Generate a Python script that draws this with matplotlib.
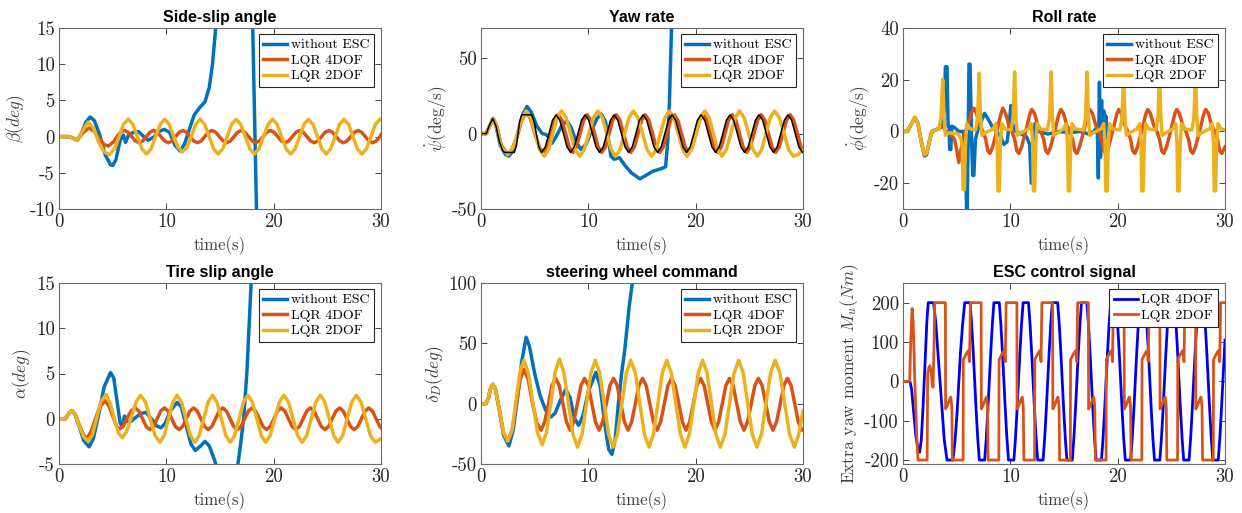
import numpy as np
import matplotlib
matplotlib.use('Agg')
import matplotlib.pyplot as plt

plt.rcParams['font.family'] = 'serif'
plt.rcParams['font.serif'] = ['cmr10', 'DejaVu Serif']
plt.rcParams['mathtext.fontset'] = 'cm'
plt.rcParams['axes.unicode_minus'] = False

# ---------------- data: (time [s], value) ----------------
x_ticks = [0, 10, 20, 30]
x_tick_labels = ['0', '10', '20', '30']
legend_3 = ['without ESC', 'LQR 4DOF', 'LQR 2DOF']
legend_2 = ['LQR 4DOF', 'LQR 2DOF']

# side-slip angle beta (deg)
beta_free = [(0, 0), (0.9, 0), (1.3, -0.2), (1.7, -0.5), (2.1, 0.5), (2.5, 2.0), (2.9, 2.7), (3.3, 2.2),
             (3.8, 0.2), (4.3, -2.5), (4.8, -3.9), (5.0, -4.0), (5.3, -3.2), (5.7, -0.5), (6.0, 0.2),
             (6.2, -0.8), (6.5, 0.3), (7.0, 0.6), (7.4, 0.7), (7.9, 0.0), (8.3, -0.5), (8.8, -0.1),
             (9.3, 0.7), (9.8, 1.0), (10.3, 0.6), (10.8, -1.2), (11.3, -2.0), (11.7, -1.0), (12.1, 0.8),
             (12.6, 3.0), (13.1, 4.0), (13.6, 4.8), (14.0, 6.8), (14.3, 10.0), (14.6, 15.0), (15.0, 25.0),
             (17.8, 25.0), (18.05, 15.0), (18.4, -10.0), (18.6, -20.0)]
beta_4dof = [(0, 0), (0.9, 0), (1.3, -0.2), (1.7, -0.5), (2.2, 0.5), (2.8, 1.2), (3.3, 0.7), (3.8, -0.3),
             (4.2, -1.1), (4.6, -1.3), (5.1, -0.7), (5.5, 0.2), (5.8, 0.7),
             (6.1, 0.85), (6.44, 0.6), (6.78, 0), (7.12, -0.6), (7.46, -0.85), (7.8, -0.6), (8.14, 0), (8.48, 0.6),
             (8.82, 0.85), (9.16, 0.6), (9.5, 0), (9.84, -0.6), (10.18, -0.85), (10.52, -0.6), (10.86, 0), (11.2, 0.6),
             (11.54, 0.85), (11.88, 0.6), (12.22, 0), (12.56, -0.6), (12.9, -0.85), (13.24, -0.6), (13.58, 0), (13.92, 0.6),
             (14.26, 0.85), (14.6, 0.6), (14.94, 0), (15.28, -0.6), (15.62, -0.85), (15.96, -0.6), (16.3, 0), (16.64, 0.6),
             (16.98, 0.85), (17.32, 0.6), (17.66, 0), (18.0, -0.6), (18.34, -0.85), (18.68, -0.6), (19.02, 0), (19.36, 0.6),
             (19.7, 0.85), (20.04, 0.6), (20.38, 0), (20.72, -0.6), (21.06, -0.85), (21.4, -0.6), (21.74, 0), (22.08, 0.6),
             (22.42, 0.85), (22.76, 0.6), (23.1, 0), (23.44, -0.6), (23.78, -0.85), (24.12, -0.6), (24.46, 0), (24.8, 0.6),
             (25.14, 0.85), (25.48, 0.6), (25.82, 0), (26.16, -0.6), (26.5, -0.85), (26.84, -0.6), (27.18, 0), (27.52, 0.6),
             (27.86, 0.85), (28.2, 0.6), (28.54, 0), (28.88, -0.6), (29.22, -0.85), (29.56, -0.6), (29.9, 0), (30, 0.25)]
beta_2dof = [(0, 0), (0.9, 0), (1.3, -0.2), (1.7, -0.5), (2.2, 0.8), (2.7, 2.0), (3.2, 1.2), (3.7, -0.8),
             (4.2, -2.1), (4.7, -2.5), (5.2, -1.6), (5.6, 0), (6.0, 1.7),
             (6.45, 2.4), (6.88, 1.7), (7.3, 0), (7.73, -1.7), (8.15, -2.4), (8.58, -1.7), (9.0, 0), (9.43, 1.7),
             (9.85, 2.4), (10.26, 1.7), (10.68, 0), (11.09, -1.5), (11.5, -2.1), (11.91, -1.5), (12.33, 0), (12.74, 1.7),
             (13.15, 2.4), (13.57, 1.7), (13.99, 0), (14.41, -1.7), (14.83, -2.4), (15.25, -1.7), (15.67, 0), (16.08, 1.7),
             (16.5, 2.4), (16.93, 1.7), (17.35, 0), (17.78, -1.7), (18.2, -2.4), (18.63, -1.7), (19.05, 0), (19.48, 1.7),
             (19.9, 2.4), (20.32, 1.7), (20.74, 0), (21.16, -1.7), (21.58, -2.4), (22.0, -1.7), (22.42, 0), (22.83, 1.7),
             (23.25, 2.4), (23.66, 1.7), (24.08, 0), (24.49, -1.7), (24.9, -2.4), (25.31, -1.7), (25.73, 0), (26.14, 1.7),
             (26.55, 2.4), (26.97, 1.7), (27.39, 0), (27.8, -1.7), (28.22, -2.4), (28.64, -1.7), (29.06, 0), (29.48, 1.7),
             (29.9, 2.4), (30, 2.38)]

# yaw rate (deg/s)
yaw_free = [(0, 0), (0.5, 0), (0.8, 5), (1.1, 10), (1.4, 5), (1.8, -8), (2.3, -14), (2.6, -15), (3.0, -11),
            (3.5, 2), (3.9, 13), (4.3, 18), (4.7, 14), (5.2, 5), (5.7, 0), (6.0, -0.5), (6.3, -2), (6.6, -6.5),
            (7.0, -2), (7.5, 5), (8.0, 8.5), (8.4, 4), (8.9, -6), (9.3, -10.5), (9.8, -7), (10.3, 2), (10.8, 10),
            (11.2, 13), (11.6, 8), (11.9, -5), (12.1, -15), (12.4, -17), (12.9, -16), (13.4, -21), (14.0, -26),
            (14.8, -30), (15.3, -28), (16.0, -25), (16.7, -23.5), (17.2, -22), (17.4, -5), (17.55, 20),
            (17.75, 70), (17.9, 100)]
yaw_4dof = [(0, 0), (0.5, 0), (0.8, 5), (1.15, 10), (1.5, 4), (1.9, -8), (2.4, -13), (2.8, -12), (3.3, -3),
            (3.8, 9), (4.2, 14), (4.6, 10), (5.1, -2), (5.5, -10), (5.85, -12.5),
            (6.19, -8.8), (6.53, 0), (6.86, 8.8), (7.2, 12.5), (7.54, 8.8), (7.88, 0), (8.21, -8.8), (8.55, -12.5),
            (8.89, -8.8), (9.23, 0), (9.56, 8.8), (9.9, 12.5), (10.24, 8.8), (10.58, 0), (10.91, -8.8), (11.25, -12.5),
            (11.59, -8.8), (11.93, 0), (12.26, 8.8), (12.6, 12.5), (12.94, 8.8), (13.28, 0), (13.61, -8.8), (13.95, -12.5),
            (14.29, -8.8), (14.63, 0), (14.96, 8.8), (15.3, 12.5), (15.64, 8.8), (15.98, 0), (16.31, -8.8), (16.65, -12.5),
            (16.99, -8.8), (17.33, 0), (17.66, 8.8), (18.0, 12.5), (18.34, 8.8), (18.68, 0), (19.01, -8.8), (19.35, -12.5),
            (19.69, -8.8), (20.03, 0), (20.36, 8.8), (20.7, 12.5), (21.04, 8.8), (21.38, 0), (21.71, -8.8), (22.05, -12.5),
            (22.39, -8.8), (22.73, 0), (23.06, 8.8), (23.4, 12.5), (23.74, 8.8), (24.08, 0), (24.41, -8.8), (24.75, -12.5),
            (25.09, -8.8), (25.43, 0), (25.76, 8.8), (26.1, 12.5), (26.44, 8.8), (26.78, 0), (27.11, -8.8), (27.45, -12.5),
            (27.79, -8.8), (28.13, 0), (28.46, 8.8), (28.8, 12.5), (29.14, 8.8), (29.48, 0), (29.81, -8.8), (30, -10.8)]
yaw_2dof = [(0, 0), (0.5, 0), (0.8, 5), (1.15, 10), (1.5, 3), (1.9, -9), (2.5, -14), (3.0, -9), (3.4, 0),
            (3.8, 10), (4.2, 15),
            (4.62, 10.6), (5.05, 0), (5.47, -10.6), (5.9, -15), (6.3, -10.6), (6.7, 0), (7.1, 10.6), (7.5, 15),
            (7.92, 10.6), (8.35, 0), (8.77, -10.6), (9.2, -15), (9.62, -10.6), (10.05, 0), (10.47, 10.6), (10.9, 15),
            (11.31, 10.6), (11.72, 0), (12.14, -10.6), (12.55, -15), (12.96, -10.6), (13.38, 0), (13.79, 10.6), (14.2, 15),
            (14.62, 10.6), (15.05, 0), (15.47, -10.6), (15.9, -15), (16.31, -10.6), (16.72, 0), (17.14, 10.6), (17.55, 15),
            (17.96, 10.6), (18.38, 0), (18.79, -10.6), (19.2, -15), (19.61, -10.6), (20.03, 0), (20.44, 10.6), (20.85, 15),
            (21.25, 10.6), (21.65, 0), (22.05, -10.6), (22.45, -15), (22.86, -10.6), (23.28, 0), (23.69, 10.6), (24.1, 15),
            (24.51, 10.6), (24.93, 0), (25.34, -10.6), (25.75, -15), (26.15, -10.6), (26.55, 0), (26.95, 10.6), (27.35, 15),
            (27.79, 10.6), (28.23, 0), (28.66, -10.6), (29.1, -15), (29.55, -13.8), (30, -11)]
yaw_ref = [(0, 0), (0.5, 0), (0.75, 5), (1.1, 10), (1.4, 5), (1.7, -5), (2.0, -11), (2.2, -12.5), (3.1, -12.5),
           (3.3, -8), (3.45, 0), (3.6, 8), (3.8, 12.5), (4.7, 12.5), (4.95, 8), (5.15, 0), (5.4, -9), (5.65, -12.5),
           (5.99, -8.8), (6.33, 0), (6.66, 8.8), (7.0, 12.5), (7.34, 8.8), (7.68, 0), (8.01, -8.8), (8.35, -12.5),
           (8.69, -8.8), (9.03, 0), (9.36, 8.8), (9.7, 12.5), (10.04, 8.8), (10.38, 0), (10.71, -8.8), (11.05, -12.5),
           (11.39, -8.8), (11.73, 0), (12.06, 8.8), (12.4, 12.5), (12.74, 8.8), (13.08, 0), (13.41, -8.8), (13.75, -12.5),
           (14.09, -8.8), (14.43, 0), (14.76, 8.8), (15.1, 12.5), (15.44, 8.8), (15.78, 0), (16.11, -8.8), (16.45, -12.5),
           (16.79, -8.8), (17.13, 0), (17.46, 8.8), (17.8, 12.5), (18.14, 8.8), (18.48, 0), (18.81, -8.8), (19.15, -12.5),
           (19.49, -8.8), (19.83, 0), (20.16, 8.8), (20.5, 12.5), (20.84, 8.8), (21.18, 0), (21.51, -8.8), (21.85, -12.5),
           (22.19, -8.8), (22.53, 0), (22.86, 8.8), (23.2, 12.5), (23.54, 8.8), (23.88, 0), (24.21, -8.8), (24.55, -12.5),
           (24.89, -8.8), (25.23, 0), (25.56, 8.8), (25.9, 12.5), (26.24, 8.8), (26.58, 0), (26.91, -8.8), (27.25, -12.5),
           (27.59, -8.8), (27.93, 0), (28.26, 8.8), (28.6, 12.5), (28.94, 8.8), (29.28, 0), (29.61, -8.8), (29.95, -12.5),
           (30, -12.4)]

# roll rate (deg/s)
roll_free = [(0, 0), (0.4, 0), (0.8, 3), (1.1, 5.4), (1.4, 3), (1.7, -4), (2.0, -9.5), (2.2, -9), (2.5, -3),
             (2.7, 0), (3.0, 0.5), (3.3, 1), (3.6, 3), (3.85, 8), (3.95, 25), (4.1, 25), (4.2, 2), (4.3, 2),
             (4.35, -7), (4.45, -7), (4.55, 2), (4.8, 1.5), (5.2, 0), (5.6, 0), (5.8, -5), (5.95, -35), (6.05, -10),
             (6.15, 26), (6.25, 26), (6.4, -5), (6.5, -17), (6.6, -17), (6.75, -3), (7.0, 1), (7.3, 4), (7.6, 7),
             (7.9, 5), (8.3, 2), (8.7, 0), (9.1, -2), (9.4, -5), (9.7, -4), (9.9, 3), (10.05, 10), (10.2, 3),
             (10.5, 0), (11.0, -1), (11.5, -2), (11.8, -5), (11.95, -20), (12.1, -20), (12.2, -5), (12.3, 3),
             (12.45, 3), (12.6, 0), (13.5, -1), (14.5, 0), (15.5, -0.5), (16.5, 0), (17.3, -1), (17.8, 0),
             (18.1, 2), (18.2, -18), (18.3, 19), (18.4, -10), (18.5, 12), (18.6, -5), (18.7, 8), (18.8, -3),
             (18.9, 6), (19.0, 0), (19.1, 2), (19.2, 0)]
roll_4dof = [(0, 0), (0.4, 0), (0.8, 3), (1.1, 5.4), (1.4, 3), (1.7, -4), (2.0, -9), (2.2, -8.5), (2.5, -3),
             (2.7, 0), (3.0, 0.5), (3.3, 1), (3.7, 2), (4.0, 0), (4.4, -1), (4.8, -3), (5.0, -7), (5.2, -12),
             (5.4, -7), (5.65, -2), (5.9, 1), (6.2, 5), (6.4, 7.5),
             (6.6, 9), (6.85, 7), (7.15, 2.5), (7.45, 0), (7.7, -3), (7.9, -7.5), (8.1, -8.5), (8.35, -6), (8.6, -2), (8.85, 2), (9.1, 6.5),
             (9.3, 9), (9.55, 7), (9.85, 2.5), (10.15, 0), (10.4, -3), (10.6, -7.5), (10.8, -8.5), (11.05, -6), (11.3, -2), (11.55, 2), (11.8, 6.5),
             (12.0, 8.5), (12.25, 7), (12.55, 2.5), (12.85, 0), (13.1, -3), (13.3, -7.5), (13.5, -8.5), (13.75, -6), (14.0, -2), (14.25, 2), (14.5, 6.5),
             (14.7, 8.5), (14.95, 7), (15.25, 2.5), (15.55, 0), (15.8, -3), (16.0, -7.5), (16.2, -8.5), (16.45, -6), (16.7, -2), (16.95, 2), (17.2, 6.5),
             (17.4, 8.5), (17.65, 7), (17.95, 2.5), (18.25, 0), (18.5, -3), (18.7, -7.5), (18.9, -8.5), (19.15, -6), (19.4, -2), (19.65, 2), (19.9, 6.5),
             (20.1, 8.5), (20.35, 7), (20.65, 2.5), (20.95, 0), (21.2, -3), (21.4, -7.5), (21.6, -8.5), (21.85, -6), (22.1, -2), (22.35, 2), (22.6, 6.5),
             (22.8, 8.5), (23.05, 7), (23.35, 2.5), (23.65, 0), (23.9, -3), (24.1, -7.5), (24.3, -8.5), (24.55, -6), (24.8, -2), (25.05, 2), (25.3, 6.5),
             (25.5, 8.5), (25.75, 7), (26.05, 2.5), (26.35, 0), (26.6, -3), (26.8, -7.5), (27.0, -8.5), (27.25, -6), (27.5, -2), (27.75, 2), (28.0, 6.5),
             (28.2, 8.5), (28.45, 7), (28.75, 2.5), (29.05, 0), (29.3, -3), (29.5, -7.5), (29.7, -8.5), (30, -6)]
roll_2dof = [(0, 0), (0.4, 0), (0.8, 3), (1.1, 5.4), (1.4, 3), (1.7, -4), (2.0, -9), (2.2, -8.5), (2.5, -3),
             (2.7, 0), (3.0, 0.5),
             (3.35, 1), (3.55, 6), (3.7, 20), (3.82, 6), (3.95, -1.5), (4.3, -0.5),
             (5.15, -1), (5.4, -3), (5.53, -6), (5.6, -22.5), (5.72, -22.5), (5.82, -5), (5.95, 3), (6.25, 1),
             (6.75, 0.5), (6.95, 5), (7.1, 22.5), (7.22, 6), (7.35, -1.5), (7.7, -0.5),
             (8.4, 1), (8.65, 3), (8.78, -5), (8.85, -23), (8.97, -23), (9.07, -5), (9.2, 3), (9.5, 1),
             (10.05, 0.5), (10.25, 5), (10.4, 23), (10.52, 6), (10.65, -1.5), (11.0, -0.5),
             (11.7, 1), (11.95, 3), (12.08, -5), (12.15, -23), (12.27, -23), (12.37, -5), (12.5, 3), (12.8, 1),
             (13.45, 0.5), (13.65, 5), (13.8, 23), (13.92, 6), (14.05, -1.5), (14.4, -0.5),
             (14.95, 1), (15.2, 3), (15.33, -5), (15.4, -23), (15.52, -23), (15.62, -5), (15.75, 3), (16.05, 1),
             (16.8, 0.5), (17.0, 5), (17.15, 23), (17.27, 6), (17.4, -1.5), (17.75, -0.5),
             (18.45, 1), (18.7, 3), (18.83, -5), (18.9, -23), (19.02, -23), (19.12, -5), (19.25, 3), (19.55, 1),
             (20.2, 0.5), (20.4, 5), (20.55, 23), (20.67, 6), (20.8, -1.5), (21.15, -0.5),
             (21.8, 1), (22.05, 3), (22.18, -5), (22.25, -23), (22.37, -23), (22.47, -5), (22.6, 3), (22.9, 1),
             (23.55, 0.5), (23.75, 5), (23.9, 23), (24.02, 6), (24.15, -1.5), (24.5, -0.5),
             (25.15, 1), (25.4, 3), (25.53, -5), (25.6, -23), (25.72, -23), (25.82, -5), (25.95, 3), (26.25, 1),
             (26.9, 0.5), (27.1, 5), (27.25, 23), (27.37, 6), (27.5, -1.5), (27.85, -0.5),
             (28.55, 1), (28.8, 3), (28.93, -5), (29.0, -23), (29.12, -23), (29.22, -5), (29.35, 3), (29.65, 1),
             (30, 0.5)]

# tire slip angle alpha (deg)
alpha_free = [(0, 0), (0.6, 0), (0.9, 0.6), (1.2, 0.9), (1.5, 0.5), (1.9, -0.9), (2.3, -2.4), (2.8, -3.1),
              (3.2, -2.2), (3.7, 0.5), (4.2, 3.5), (4.8, 5.1), (5.1, 4.5), (5.4, 2.0), (5.7, -0.5), (5.9, -0.8),
              (6.1, 0.3), (6.3, -0.3), (6.7, -0.3), (7.2, 0.2), (7.7, 0.6), (8.1, 0.7), (8.6, 0), (9.1, -0.8),
              (9.5, -1.0), (9.9, -0.5), (10.4, 0.9), (11.0, 1.8), (11.4, 1.3), (11.9, -1.0), (12.3, -2.8),
              (12.7, -3.5), (13.2, -3.0), (13.6, -2.5), (14.0, -3.0), (14.5, -4.6), (15.0, -6.5), (15.8, -8),
              (16.5, -6.5), (16.9, -3), (17.2, 0), (17.5, 5), (17.9, 15), (18.1, 22)]
alpha_4dof = [(0, 0), (0.6, 0), (0.9, 0.6), (1.2, 0.9), (1.5, 0.5), (1.9, -0.7), (2.3, -1.8), (2.6, -2.2),
              (3.0, -1.4), (3.4, 0), (3.8, 1.3), (4.3, 2.0), (4.7, 1.3), (5.1, 0), (5.4, -0.9), (5.7, -1.1),
              (6.0, -0.8), (6.4, 0.2), (6.75, 0.9),
              (7.1, 1.2), (7.44, 0.85), (7.78, 0), (8.12, -0.85), (8.46, -1.2), (8.8, -0.85), (9.14, 0), (9.48, 0.85),
              (9.82, 1.2), (10.16, 0.85), (10.5, 0), (10.84, -0.85), (11.18, -1.2), (11.52, -0.85), (11.86, 0), (12.2, 0.85),
              (12.54, 1.2), (12.88, 0.85), (13.22, 0), (13.56, -0.85), (13.9, -1.2), (14.24, -0.85), (14.58, 0), (14.92, 0.85),
              (15.26, 1.2), (15.6, 0.85), (15.94, 0), (16.28, -0.85), (16.62, -1.2), (16.96, -0.85), (17.3, 0), (17.64, 0.85),
              (17.98, 1.2), (18.32, 0.85), (18.66, 0), (19.0, -0.85), (19.34, -1.2), (19.68, -0.85), (20.02, 0), (20.36, 0.85),
              (20.7, 1.2), (21.04, 0.85), (21.38, 0), (21.72, -0.85), (22.06, -1.2), (22.4, -0.85), (22.74, 0), (23.08, 0.85),
              (23.42, 1.2), (23.76, 0.85), (24.1, 0), (24.44, -0.85), (24.78, -1.2), (25.12, -0.85), (25.46, 0), (25.8, 0.85),
              (26.14, 1.2), (26.48, 0.85), (26.82, 0), (27.16, -0.85), (27.5, -1.2), (27.84, -0.85), (28.18, 0), (28.52, 0.85),
              (28.86, 1.2), (29.2, 0.85), (29.54, 0), (29.88, -0.85), (30, -1.0)]
alpha_2dof = [(0, 0), (0.6, 0), (0.9, 0.6), (1.2, 0.9), (1.5, 0.5), (1.9, -0.8), (2.3, -2.0), (2.7, -2.5),
              (3.1, -1.8), (3.5, 0), (3.9, 1.9), (4.4, 2.7), (4.8, 1.6), (5.2, -0.2), (5.55, -1.6), (5.9, -2.1),
              (6.3, -1.4), (6.75, 0.2), (7.2, 1.9),
              (7.6, 2.6), (8.05, 1.85), (8.5, 0), (8.95, -1.85), (9.4, -2.6), (9.8, -1.85), (10.2, 0), (10.6, 1.85),
              (11.0, 2.6), (11.41, 1.85), (11.83, 0), (12.24, -1.85), (12.65, -2.6), (13.06, -1.85), (13.48, 0), (13.89, 1.85),
              (14.3, 2.6), (14.71, 1.85), (15.13, 0), (15.54, -1.85), (15.95, -2.6), (16.36, -1.85), (16.78, 0), (17.19, 1.85),
              (17.6, 2.6), (18.01, 1.85), (18.43, 0), (18.84, -1.85), (19.25, -2.6), (19.68, -1.85), (20.1, 0), (20.53, 1.85),
              (20.95, 2.6), (21.38, 1.85), (21.8, 0), (22.23, -1.85), (22.65, -2.6), (23.08, -1.85), (23.5, 0), (23.93, 1.85),
              (24.35, 2.6), (24.76, 1.85), (25.18, 0), (25.59, -1.85), (26.0, -2.6), (26.43, -1.85), (26.85, 0), (27.28, 1.85),
              (27.7, 2.6), (28.14, 1.85), (28.58, 0), (29.01, -1.85), (29.45, -2.6), (30, -2.2)]

# steering wheel command delta_D (deg)
delta_free = [(0, 0), (0.45, 0), (0.7, 5), (0.9, 13), (1.1, 16), (1.35, 12), (1.7, -5), (2.1, -26), (2.6, -35),
              (3.0, -22), (3.4, 5), (3.8, 35), (4.2, 55), (4.5, 48), (5.0, 25), (5.5, 7), (6.0, -5), (6.5, -11),
              (6.9, -8), (7.4, 3), (7.9, 12), (8.3, 5), (8.7, -12), (9.1, -18), (9.5, -10), (10.0, 10),
              (10.7, 26), (11.1, 15), (11.5, -15), (11.9, -38), (12.2, -42), (12.5, -30), (12.8, 0), (13.1, 25),
              (13.4, 45), (13.8, 80), (14.1, 100), (14.3, 115)]
delta_4dof = [(0, 0), (0.45, 0), (0.7, 5), (0.9, 13), (1.1, 16), (1.35, 12), (1.7, -5), (2.1, -24), (2.5, -31),
              (2.9, -22), (3.3, 0), (3.65, 20), (4.0, 28.5), (4.4, 20), (4.8, 0), (5.2, -16), (5.6, -22),
              (5.94, -15), (6.28, 0), (6.61, 15), (6.95, 21), (7.29, 15), (7.63, 0), (7.96, -15), (8.3, -22),
              (8.64, -15), (8.98, 0), (9.31, 15), (9.65, 21), (9.99, 15), (10.33, 0), (10.66, -15), (11.0, -22),
              (11.34, -15), (11.68, 0), (12.01, 15), (12.35, 21), (12.69, 15), (13.03, 0), (13.36, -15), (13.7, -22),
              (14.04, -15), (14.38, 0), (14.71, 15), (15.05, 21), (15.39, 15), (15.73, 0), (16.06, -15), (16.4, -22),
              (16.74, -15), (17.08, 0), (17.41, 15), (17.75, 21), (18.09, 15), (18.43, 0), (18.76, -15), (19.1, -22),
              (19.44, -15), (19.78, 0), (20.11, 15), (20.45, 21), (20.79, 15), (21.13, 0), (21.46, -15), (21.8, -22),
              (22.14, -15), (22.48, 0), (22.81, 15), (23.15, 21), (23.49, 15), (23.83, 0), (24.16, -15), (24.5, -22),
              (24.84, -15), (25.18, 0), (25.51, 15), (25.85, 21), (26.19, 15), (26.53, 0), (26.86, -15), (27.2, -22),
              (27.54, -15), (27.88, 0), (28.21, 15), (28.55, 21), (28.89, 15), (29.23, 0), (29.56, -15), (29.9, -22),
              (30, -21.5)]
delta_2dof = [(0, 0), (0.45, 0), (0.7, 5), (0.9, 13), (1.1, 16), (1.35, 12), (1.7, -5), (2.1, -24), (2.5, -31),
              (2.9, -22), (3.3, 5), (3.65, 27), (4.0, 36),
              (4.42, 25), (4.85, 0), (5.27, -24), (5.7, -34), (6.1, -24), (6.5, 0), (6.9, 26), (7.3, 37),
              (7.72, 26), (8.15, 0), (8.57, -25.5), (9.0, -36), (9.41, -25.5), (9.83, 0), (10.24, 25.5), (10.65, 36),
              (11.06, 25.5), (11.48, 0), (11.89, -25.5), (12.3, -36), (12.71, -25.5), (13.13, 0), (13.54, 25.5), (13.95, 36),
              (14.38, 25.5), (14.8, 0), (15.23, -25.5), (15.65, -36), (16.06, -25.5), (16.48, 0), (16.89, 25.5), (17.3, 36),
              (17.73, 25.5), (18.15, 0), (18.58, -25.5), (19.0, -36), (19.41, -25.5), (19.83, 0), (20.24, 25.5), (20.65, 36),
              (21.06, 25.5), (21.48, 0), (21.89, -25.5), (22.3, -36), (22.73, -25.5), (23.15, 0), (23.58, 25.5), (24.0, 36),
              (24.43, 25.5), (24.85, 0), (25.28, -25.5), (25.7, -36), (26.13, -25.5), (26.55, 0), (26.98, 25.5), (27.4, 36),
              (27.85, 25.5), (28.3, 0), (28.75, -25.5), (29.2, -36), (29.6, -25.5), (30, -6)]

# ESC control signal, extra yaw moment (Nm)
esc_4dof = [(0, 0), (0.65, 0), (0.8, -20), (1.0, -80), (1.2, -140), (1.4, -172), (1.55, -180), (1.7, -150),
            (1.85, -75), (1.98, 0), (2.1, 75), (2.22, 150), (2.35, 200), (2.85, 200), (3.05, 150), (3.25, 75),
            (3.45, 0), (3.65, -75), (3.85, -150), (4.1, -200), (4.65, -200), (4.85, -150), (5.05, -75), (5.2, 0),
            (5.35, 71), (5.55, 144), (5.75, 200),
            (6.25, 200), (6.4, 144), (6.55, 71), (6.68, 0), (6.81, -71), (6.96, -144), (7.11, -200), (7.61, -200),
            (7.76, -144), (7.91, -71), (8.04, 0), (8.17, 71), (8.32, 144), (8.47, 200),
            (8.97, 200), (9.12, 144), (9.27, 71), (9.4, 0), (9.53, -71), (9.68, -144), (9.83, -200), (10.33, -200),
            (10.48, -144), (10.63, -71), (10.76, 0), (10.89, 71), (11.04, 144), (11.19, 200),
            (11.69, 200), (11.84, 144), (11.99, 71), (12.12, 0), (12.25, -71), (12.4, -144), (12.55, -200), (13.05, -200),
            (13.2, -144), (13.35, -71), (13.48, 0), (13.61, 71), (13.76, 144), (13.91, 200),
            (14.41, 200), (14.56, 144), (14.71, 71), (14.84, 0), (14.97, -71), (15.12, -144), (15.27, -200), (15.77, -200),
            (15.92, -144), (16.07, -71), (16.2, 0), (16.33, 71), (16.48, 144), (16.63, 200),
            (17.13, 200), (17.28, 144), (17.43, 71), (17.56, 0), (17.69, -71), (17.84, -144), (17.99, -200), (18.49, -200),
            (18.64, -144), (18.79, -71), (18.92, 0), (19.05, 71), (19.2, 144), (19.35, 200),
            (19.85, 200), (20.0, 144), (20.15, 71), (20.28, 0), (20.41, -71), (20.56, -144), (20.71, -200), (21.21, -200),
            (21.36, -144), (21.51, -71), (21.64, 0), (21.77, 71), (21.92, 144), (22.07, 200),
            (22.57, 200), (22.72, 144), (22.87, 71), (23.0, 0), (23.13, -71), (23.28, -144), (23.43, -200), (23.93, -200),
            (24.08, -144), (24.23, -71), (24.36, 0), (24.49, 71), (24.64, 144), (24.79, 200),
            (25.29, 200), (25.44, 144), (25.59, 71), (25.72, 0), (25.85, -71), (26.0, -144), (26.15, -200), (26.65, -200),
            (26.8, -144), (26.95, -71), (27.08, 0), (27.21, 71), (27.36, 144), (27.51, 200),
            (28.01, 200), (28.16, 144), (28.31, 71), (28.44, 0), (28.57, -71), (28.72, -144), (28.87, -200), (29.37, -200),
            (29.52, -144), (29.67, -71), (29.8, 0), (29.93, 71), (30, 105)]
esc_2dof = [(0, 0), (0.62, 0), (0.72, 100), (0.85, 185), (0.95, 150), (1.1, 0), (1.3, -150), (1.4, -200),
            (2.25, -200), (2.3, 20), (2.4, 35), (2.5, 40), (2.6, 30), (2.72, -5), (2.8, -15), (2.9, 100), (2.95, 200),
            (3.95, 200), (3.97, -70), (4.15, -60), (4.35, -45), (4.45, -40), (4.55, -65), (4.6, -200),
            (5.6, -200), (5.62, 55), (5.8, 65), (6.0, 75), (6.1, 78), (6.2, 50), (6.28, 200),
            (7.28, 200), (7.3, -70), (7.48, -60), (7.68, -45), (7.78, -40), (7.88, -65), (7.93, -200),
            (8.93, -200), (8.95, 55), (9.13, 65), (9.33, 75), (9.43, 78), (9.53, 50), (9.61, 200),
            (10.61, 200), (10.63, -70), (10.81, -60), (11.01, -45), (11.11, -40), (11.21, -65), (11.26, -200),
            (12.26, -200), (12.28, 55), (12.46, 65), (12.66, 75), (12.76, 78), (12.86, 50), (12.94, 200),
            (13.94, 200), (13.96, -70), (14.14, -60), (14.34, -45), (14.44, -40), (14.54, -65), (14.59, -200),
            (15.59, -200), (15.61, 55), (15.79, 65), (15.99, 75), (16.09, 78), (16.19, 50), (16.27, 200),
            (17.27, 200), (17.29, -70), (17.47, -60), (17.67, -45), (17.77, -40), (17.87, -65), (17.92, -200),
            (18.92, -200), (18.94, 55), (19.12, 65), (19.32, 75), (19.42, 78), (19.52, 50), (19.6, 200),
            (20.6, 200), (20.62, -70), (20.8, -60), (21.0, -45), (21.1, -40), (21.2, -65), (21.25, -200),
            (22.25, -200), (22.27, 55), (22.45, 65), (22.65, 75), (22.75, 78), (22.85, 50), (22.93, 200),
            (23.93, 200), (23.95, -70), (24.13, -60), (24.33, -45), (24.43, -40), (24.53, -65), (24.58, -200),
            (25.58, -200), (25.6, 55), (25.78, 65), (25.98, 75), (26.08, 78), (26.18, 50), (26.26, 200),
            (27.26, 200), (27.28, -70), (27.46, -60), (27.66, -45), (27.76, -40), (27.86, -65), (27.91, -200),
            (28.91, -200), (28.93, 55), (29.11, 65), (29.31, 75), (29.41, 78), (29.51, 50), (29.59, 200),
            (30, 200)]

# ---------------- styling ----------------
BLUE = '#0072BD'
ORANGE = '#D95319'
YELLOW = '#EDB120'
PURE_BLUE = '#0000F0'
TXT = '#262626'


def xy(pairs):
    a = np.array(pairs, dtype=float)
    return a[:, 0], a[:, 1]


def setup(ax, title, ylabel, ylim, yticks, ylabel_size=12.5):
    ax.set_xlim(0, 30)
    ax.set_ylim(*ylim)
    ax.set_xticks(x_ticks)
    ax.set_xticklabels(x_tick_labels)
    ax.set_yticks(yticks)
    ax.set_yticklabels([str(v) for v in yticks])
    ax.tick_params(direction='in', top=True, right=True, length=4, width=0.6,
                   labelsize=13.5, colors=TXT, pad=3)
    for s in ax.spines.values():
        s.set_color('#6a6a6a')
        s.set_linewidth(0.8)
    ax.set_title(title, fontfamily='Liberation Sans', fontweight='bold',
                 fontsize=11.5, pad=4)
    ax.set_xlabel('time(s)', fontsize=12, color='#404040', labelpad=4)
    ax.set_ylabel(ylabel, fontsize=ylabel_size, color='#404040', labelpad=2)


def legend(ax, labels):
    leg = ax.legend(labels, loc='upper right', bbox_to_anchor=(0.978, 0.968),
                    borderaxespad=0, fontsize=10, fancybox=False, framealpha=1,
                    edgecolor=TXT, handlelength=1.7, handletextpad=0.25,
                    labelspacing=0.2, borderpad=0.35)
    leg.get_frame().set_linewidth(0.8)


fig = plt.figure(figsize=(12.42, 5.13), dpi=100)
W, H = 1242.0, 513.0
lefts = [59, 481, 903]
tops = [28, 283]
aw, ah = 322, 181


def make_axes(r, c):
    return fig.add_axes([lefts[c] / W, 1 - (tops[r] + ah) / H, aw / W, ah / H])


LW = 2.5

# Side-slip angle
ax = make_axes(0, 0)
for data, col in [(beta_free, BLUE), (beta_4dof, ORANGE), (beta_2dof, YELLOW)]:
    ax.plot(*xy(data), color=col, lw=LW)
setup(ax, 'Side-slip angle', r'$\beta(deg)$', (-10, 15), [-10, -5, 0, 5, 10, 15])
legend(ax, legend_3)

# Yaw rate
ax = make_axes(0, 1)
for data, col in [(yaw_free, BLUE), (yaw_4dof, ORANGE), (yaw_2dof, YELLOW)]:
    ax.plot(*xy(data), color=col, lw=LW)
ax.plot(*xy(yaw_ref), color='black', lw=1.1)
setup(ax, 'Yaw rate', r'$\dot{\psi}$(deg/s)', (-50, 70), [-50, 0, 50])
legend(ax, legend_3)

# Roll rate
ax = make_axes(0, 2)
for data, col in [(roll_free, BLUE), (roll_4dof, ORANGE), (roll_2dof, YELLOW)]:
    ax.plot(*xy(data), color=col, lw=LW)
setup(ax, 'Roll rate', r'$\dot{\phi}$(deg/s)', (-30, 40), [-20, 0, 20, 40])
legend(ax, legend_3)

# Tire slip angle
ax = make_axes(1, 0)
for data, col in [(alpha_free, BLUE), (alpha_4dof, ORANGE), (alpha_2dof, YELLOW)]:
    ax.plot(*xy(data), color=col, lw=LW)
setup(ax, 'Tire slip angle', r'$\alpha(deg)$', (-5, 15), [-5, 0, 5, 10, 15])
legend(ax, legend_3)

# Steering wheel command
ax = make_axes(1, 1)
for data, col in [(delta_free, BLUE), (delta_4dof, ORANGE), (delta_2dof, YELLOW)]:
    ax.plot(*xy(data), color=col, lw=LW)
setup(ax, 'steering wheel command', r'$\delta_D(deg)$', (-50, 100), [-50, 0, 50, 100])
legend(ax, legend_3)

# ESC control signal
ax = make_axes(1, 2)
ax.plot(*xy(esc_4dof), color=PURE_BLUE, lw=2.0)
ax.plot(*xy(esc_2dof), color=ORANGE, lw=2.0)
setup(ax, 'ESC control signal', r'Extra yaw moment $M_u(Nm)$', (-210, 250),
      [-200, -100, 0, 100, 200], ylabel_size=12.5)
legend(ax, legend_2)

fig.savefig('out.png', dpi=100)
